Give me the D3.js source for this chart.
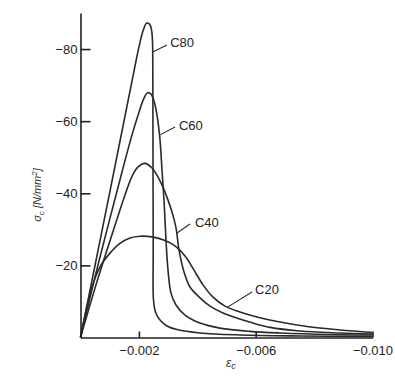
<!DOCTYPE html>
<html>

<head>
  <script src="https://d3js.org/d3.v7.min.js"></script>
  <style>
    body {
      margin: 0;
      background: #fff;
    }

    .axis path,
    .axis line {
      fill: none;
      stroke: #222;
      stroke-width: 1.6;
    }

    .axis text {
      font: 13px "Liberation Sans", Arial, sans-serif;
      fill: #222;
    }

    .curve {
      fill: none;
      stroke: #2a2a2a;
      stroke-width: 1.6;
    }

    .leader {
      stroke: #2a2a2a;
      stroke-width: 1.1;
    }

    .curve-label {
      font: 13px "Liberation Sans", Arial, sans-serif;
      fill: #222;
    }

    .axis-label {
      font: italic 11px "Liberation Sans", Arial, sans-serif;
      fill: #333;
    }
  </style>
</head>

<body>
  <div id="chart"></div>

  <script>
    // strain values are negative (compression), stress in N/mm2
    const c80Strain = [0, -0.00050, -0.00101, -0.001353, -0.001627, -0.001832, -0.002003, -0.00214, -0.002267,
      -0.002363, -0.002432, -0.002466, -0.002476, -0.002483, -0.00249, -0.0025, -0.002568, -0.002723,
      -0.002962, -0.003305, -0.004092, -0.005462, -0.007517, -0.0100];
    const c80Stress = [0, -20.1, -40.6, -54.5, -65.6, -73.9, -80.6, -85.0, -87.2,
      -86.9, -85.3, -81.9, -74.2, -52.0, -24.3, -10.4, -7.1, -4.85,
      -3.2, -2.2, -1.25, -0.7, -0.42, -0.28];

    const c60Strain = [0, -0.000497, -0.00101, -0.001421, -0.001764, -0.002003, -0.002175, -0.002301,
      -0.002414, -0.002517, -0.00262, -0.002723, -0.002791, -0.00286, -0.002928, -0.002997, -0.003099,
      -0.003271, -0.003579, -0.004092, -0.004777, -0.005805, -0.006832, -0.008545, -0.0100];
    const c60Stress = [0, -16.8, -33.1, -45.9, -56.2, -62.5, -66.4, -67.9,
      -67.5, -65.6, -61.7, -54.8, -46.4, -38.1, -27.0, -18.7, -12.3,
      -9.0, -6.2, -4.0, -2.6, -1.7, -1.25, -0.83, -0.69];

    const c40Strain = [0, -0.000497, -0.000908, -0.00124, -0.001524, -0.001753, -0.001969, -0.002209,
      -0.002449, -0.002654, -0.002825, -0.002997, -0.003134, -0.003271, -0.003373, -0.003545, -0.00375,
      -0.004092, -0.004435, -0.00488, -0.005908, -0.00649, -0.007517, -0.008887, -0.0100];
    const c40Stress = [0, -13.7, -24.3, -32.6, -39.5, -44.5, -47.3, -48.3,
      -47.0, -44.5, -41.7, -38.1, -34.8, -30.4, -24.3, -18.2, -14.0,
      -11.0, -8.7, -6.8, -4.0, -2.8, -1.8, -1.25, -0.97];

    const c20Strain = [0, -0.00012, -0.000257, -0.000428, -0.000668, -0.00101, -0.001353, -0.001695, -0.002038,
      -0.002449, -0.002894, -0.003236, -0.003579, -0.003887, -0.004195, -0.004538, -0.004949,
      -0.005462, -0.006045, -0.006832, -0.007757, -0.008887, -0.0100];
    const c20Stress = [0, -4.85, -9.8, -14.8, -19.6, -23.4, -26.1, -27.6, -28.1,
      -27.9, -26.9, -25.4, -22.6, -18.7, -14.6, -11.2, -8.7,
      -7.1, -5.7, -4.3, -3.05, -2.1, -1.4];

    const curveNames = ["C80", "C60", "C40", "C20"];
    // where each name starts (strain, stress) and the leader from curve to name
    const labelAt = [[-0.00307, -81.9], [-0.00337, -58.7], [-0.00392, -32.0], [-0.00598, -13.2]];
    const leaderFrom = [[-0.002473, -79.2], [-0.002723, -56.2], [-0.003305, -29.0], [-0.005051, -8.5]];
    const leaderTo = [[-0.002962, -81.1], [-0.003236, -58.4], [-0.003750, -31.5], [-0.005873, -12.6]];

    const xTicks = [-0.002, -0.006, -0.010];
    const yTicks = [-20, -40, -60, -80];

    const series = [
      { name: "C80", strain: c80Strain, stress: c80Stress },
      { name: "C60", strain: c60Strain, stress: c60Stress },
      { name: "C40", strain: c40Strain, stress: c40Stress },
      { name: "C20", strain: c20Strain, stress: c20Stress }
    ];

    const width = 395, height = 376;

    const svg = d3.select("#chart")
      .append("svg")
      .attr("width", width)
      .attr("height", height);

    const x = d3.scaleLinear()
      .domain([0, -0.010])
      .range([80.5, 372.5]);

    const y = d3.scaleLinear()
      .domain([0, -90])
      .range([337.5, 13]);

    // curves
    const line = d3.line()
      .x(d => x(d[0]))
      .y(d => y(d[1]))
      .curve(d3.curveCatmullRom.alpha(0.5));

    svg.append("g")
      .selectAll("path")
      .data(series)
      .enter().append("path")
      .attr("class", "curve")
      .attr("d", s => line(s.strain.map((e, i) => [e, s.stress[i]])));

    // axes
    svg.append("g")
      .attr("class", "axis")
      .attr("transform", `translate(0,${y(0)})`)
      .call(d3.axisBottom(x).tickValues(xTicks).tickFormat(d3.format(".3f"))
        .tickSizeInner(-6).tickSizeOuter(0).tickPadding(8));

    svg.append("g")
      .attr("class", "axis")
      .attr("transform", `translate(${x(0)},0)`)
      .call(d3.axisLeft(y).tickValues(yTicks).tickFormat(d3.format("d"))
        .tickSizeInner(-10).tickSizeOuter(0).tickPadding(3));

    // curve labels with leader lines
    svg.append("g")
      .selectAll("line")
      .data(curveNames)
      .enter().append("line")
      .attr("class", "leader")
      .attr("x1", (d, i) => x(leaderFrom[i][0]))
      .attr("y1", (d, i) => y(leaderFrom[i][1]))
      .attr("x2", (d, i) => x(leaderTo[i][0]))
      .attr("y2", (d, i) => y(leaderTo[i][1]));

    svg.append("g")
      .selectAll("text")
      .data(curveNames)
      .enter().append("text")
      .attr("class", "curve-label")
      .attr("x", (d, i) => x(labelAt[i][0]))
      .attr("y", (d, i) => y(labelAt[i][1]))
      .attr("dy", "0.35em")
      .text(d => d);

    // axis labels
    const yLab = svg.append("text")
      .attr("class", "axis-label")
      .attr("text-anchor", "middle")
      .attr("transform", "translate(41,195) rotate(-90)");
    yLab.append("tspan").text("σ");
    yLab.append("tspan").attr("dy", 3).attr("font-size", 8).text("c");
    yLab.append("tspan").attr("dy", -3).text("  [N/mm");
    yLab.append("tspan").attr("dy", -4).attr("font-size", 8).text("2");
    yLab.append("tspan").attr("dy", 4).text("]");

    const xLab = svg.append("text")
      .attr("class", "axis-label")
      .attr("x", 226)
      .attr("y", 367);
    xLab.append("tspan").attr("font-size", 12).text("ε");
    xLab.append("tspan").attr("dy", 2).attr("font-size", 9).text("c");
  </script>
</body>

</html>
